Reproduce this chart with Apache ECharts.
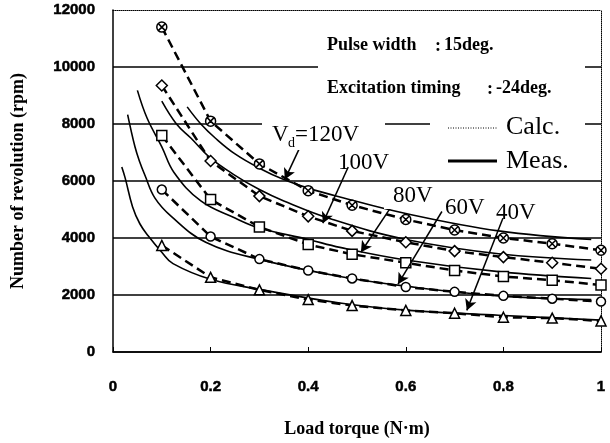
<!DOCTYPE html>
<html>
<head>
<meta charset="utf-8">
<script src="https://cdn.jsdelivr.net/npm/echarts@6.0.0/dist/echarts.min.js"></script>
<style>
  html, body { margin: 0; padding: 0; background: #fff; }
  #main { width: 610px; height: 443px; }
</style>
</head>
<body>
<div id="main"></div>
<script>
// marker points (dashed lines), torque in N·m, speed in rpm
var torquePts = [0.1, 0.2, 0.3, 0.4, 0.49, 0.6, 0.7, 0.8, 0.9, 1.0];
var pts120 = [11400, 8100, 6600, 5660, 5150, 4650, 4280, 4000, 3800, 3570];
var pts100 = [9350, 6700, 5470, 4760, 4250, 3850, 3540, 3330, 3130, 2920];
var pts80 = [7600, 5350, 4390, 3770, 3430, 3130, 2860, 2650, 2520, 2350];
var pts60 = [5700, 4050, 3260, 2860, 2580, 2280, 2110, 1970, 1870, 1770];
var pts40 = [3740, 2620, 2180, 1840, 1630, 1460, 1360, 1220, 1190, 1090];

// smooth curves (solid lines)
var curveX120 = [0.152, 0.18, 0.21, 0.25, 0.3, 0.35, 0.4, 0.465, 0.6, 0.79, 0.98];
var curve120 = [8600, 8000, 7500, 6950, 6450, 6050, 5750, 5440, 4860, 4250, 3950];
var curveX100 = [0.1, 0.13, 0.16, 0.2, 0.25, 0.3, 0.35, 0.45, 0.6, 0.79, 0.98];
var curve100 = [8800, 8000, 7500, 6800, 6200, 5700, 5300, 4650, 3950, 3450, 3230];
var curveX80 = [0.05, 0.07, 0.1, 0.125, 0.18, 0.25, 0.3, 0.4, 0.465, 0.6, 0.79, 0.98];
var curve80 = [9180, 8200, 7200, 6300, 5300, 4700, 4350, 3950, 3670, 3230, 2820, 2580];
var curveX60 = [0.03, 0.045, 0.055, 0.065, 0.086, 0.12, 0.19, 0.3, 0.465, 0.6, 0.79, 0.98];
var curve60 = [8330, 7200, 6660, 6220, 5400, 4750, 3850, 3250, 2650, 2310, 1970, 1840];
var curveX40 = [0.018, 0.025, 0.04, 0.055, 0.072, 0.1, 0.123, 0.2, 0.3, 0.465, 0.6, 0.79, 1.0];
var curve40 = [6490, 6100, 5100, 4500, 4080, 3500, 3100, 2550, 2200, 1720, 1470, 1290, 1120];

var xTicks = [0, 0.2, 0.4, 0.6, 0.8, 1];
var yTicks = [0, 2000, 4000, 6000, 8000, 10000, 12000];

// label arrows: [fromX, fromY, toX, toY] in data units
var arrows = [
  [0.389, 7400, 0.352, 6050],
  [0.482, 6490, 0.43, 4520],
  [0.574, 5200, 0.508, 3500],
  [0.674, 4930, 0.584, 2380],
  [0.799, 4690, 0.725, 1460]
];

var circleX = "path://M0,-10A10,10,0,1,1,0,10A10,10,0,1,1,0,-10ZM-6,-6L6,6M6,-6L-6,6";

function pairs(xs, ys) {
  var out = [];
  for (var i = 0; i < xs.length; i++) out.push([xs[i], ys[i]]);
  return out;
}

function dashed(name, ys, symbol, size) {
  return {
    name: name,
    type: "line",
    data: pairs(torquePts, ys),
    symbol: symbol,
    symbolSize: size,
    showAllSymbol: true,
    lineStyle: { color: "#000", width: 2.5, type: [9, 5] },
    itemStyle: { color: "#fff", borderColor: "#000", borderWidth: 1.5 },
    z: 4
  };
}

function solid(name, xs, ys) {
  return {
    name: name,
    type: "line",
    data: pairs(xs, ys),
    smooth: 0.4,
    showSymbol: false,
    lineStyle: { color: "#000", width: 1.6 },
    z: 3
  };
}

var arrowLines = arrows.map(function (a) {
  return [{ coord: [a[0], a[1]] }, { coord: [a[2], a[3]] }];
});

var serif = '"Liberation Serif", "Times New Roman", serif';

function txt(text, x, y, size, bold) {
  return {
    type: "text",
    z: 20,
    style: {
      text: text,
      x: x,
      y: y,
      fill: "#000",
      font: (bold ? "bold " : "") + size + "px " + serif,
      verticalAlign: "middle"
    }
  };
}

function cover(x, y, w, h) {
  return { type: "rect", z: 15, shape: { x: x, y: y, width: w, height: h }, style: { fill: "#fff" } };
}

var tickFont = {
  color: "#000",
  fontFamily: "Liberation Sans",
  fontWeight: "bold",
  fontSize: 15,
  textBorderColor: "#000",
  textBorderWidth: 0.5
};

var myChart = echarts.init(document.getElementById("main"));
var option = {
  animation: false,
  backgroundColor: "#fff",
  grid: { left: 113, right: 9, top: 10, bottom: 80 },
  xAxis: [
    {
      type: "value",
      min: 0,
      max: 1,
      interval: 0.2,
      name: "Load torque (N\u00b7m)",
      nameLocation: "middle",
      nameGap: 68,
      nameTextStyle: { fontFamily: serif, fontWeight: "bold", fontSize: 18, color: "#000" },
      axisLine: { onZero: false, lineStyle: { color: "#000", width: 1.5 } },
      axisTick: { show: true, inside: true, length: 5, lineStyle: { color: "#000" } },
      axisLabel: Object.assign({
        margin: 27,
        formatter: function (v) { return xTicks.indexOf(v) >= 0 ? String(v) : ""; }
      }, tickFont),
      splitLine: { show: false }
    },
    {
      type: "value",
      position: "top",
      min: 0,
      max: 1,
      axisLine: { show: true, onZero: false, lineStyle: { color: "#000", width: 1, type: "dotted" } },
      axisTick: { show: false },
      axisLabel: { show: false },
      splitLine: { show: false }
    }
  ],
  yAxis: [
    {
      type: "value",
      min: 0,
      max: 12000,
      interval: 2000,
      name: "Number of revolution (rpm)",
      nameLocation: "middle",
      nameGap: 86,
      nameTextStyle: { fontFamily: serif, fontWeight: "bold", fontSize: 18, color: "#000" },
      axisLine: { show: true, onZero: false, lineStyle: { color: "#000", width: 1.5 } },
      axisTick: { show: false },
      axisLabel: Object.assign({
        margin: 18,
        formatter: function (v) { return yTicks.indexOf(v) >= 0 ? String(v) : ""; }
      }, tickFont),
      splitLine: { show: true, showMaxLine: false, lineStyle: { color: "#000", width: 1.5 } }
    },
    {
      type: "value",
      position: "right",
      min: 0,
      max: 12000,
      axisLine: { show: true, onZero: false, lineStyle: { color: "#000", width: 1, type: "dotted" } },
      axisTick: { show: false },
      axisLabel: { show: false },
      splitLine: { show: false }
    }
  ],
  series: [
    solid("calc 120V", curveX120, curve120),
    solid("calc 100V", curveX100, curve100),
    solid("calc 80V", curveX80, curve80),
    solid("calc 60V", curveX60, curve60),
    solid("calc 40V", curveX40, curve40),
    dashed("meas 120V", pts120, circleX, 10),
    dashed("meas 100V", pts100, "diamond", 11),
    dashed("meas 80V", pts80, "rect", 10),
    dashed("meas 60V", pts60, "circle", 9),
    dashed("meas 40V", pts40, "triangle", 10),
    {
      name: "arrows",
      type: "line",
      data: [],
      markLine: {
        silent: true,
        symbol: ["none", "arrow"],
        symbolSize: [9, 11],
        label: { show: false },
        lineStyle: { color: "#000", width: 1.5, type: "solid" },
        data: arrowLines
      },
      z: 6
    }
  ],
  graphic: [
    cover(318, 25, 267, 88),
    cover(430, 113, 155, 62),
    cover(262, 117, 123, 33),
    cover(384, 182, 70, 27),
    txt("Pulse width", 327, 45, 18, true),
    txt(":", 435, 46, 18, true),
    txt("15deg.", 444, 45, 18, true),
    txt("Excitation timing", 327, 88, 18, true),
    txt(":", 487, 89, 18, true),
    txt("-24deg.", 496, 88, 18, true),
    txt("V", 272, 135, 23, false),
    txt("d", 288, 143, 14, false),
    txt("=120V", 295, 135, 23, false),
    txt("100V", 338, 163, 23, false),
    txt("80V", 393, 196, 23, false),
    txt("60V", 445, 208, 23, false),
    txt("40V", 496, 213, 23, false),
    txt("Calc.", 506, 127, 26, false),
    txt("Meas.", 506, 161, 26, false),
    {
      type: "line",
      z: 20,
      shape: { x1: 448, y1: 128, x2: 497, y2: 128 },
      style: { stroke: "#000", lineWidth: 1, lineDash: [1, 1.5] }
    },
    {
      type: "line",
      z: 20,
      shape: { x1: 448, y1: 161, x2: 497, y2: 161 },
      style: { stroke: "#000", lineWidth: 3 }
    }
  ]
};
myChart.setOption(option);
</script>
</body>
</html>
